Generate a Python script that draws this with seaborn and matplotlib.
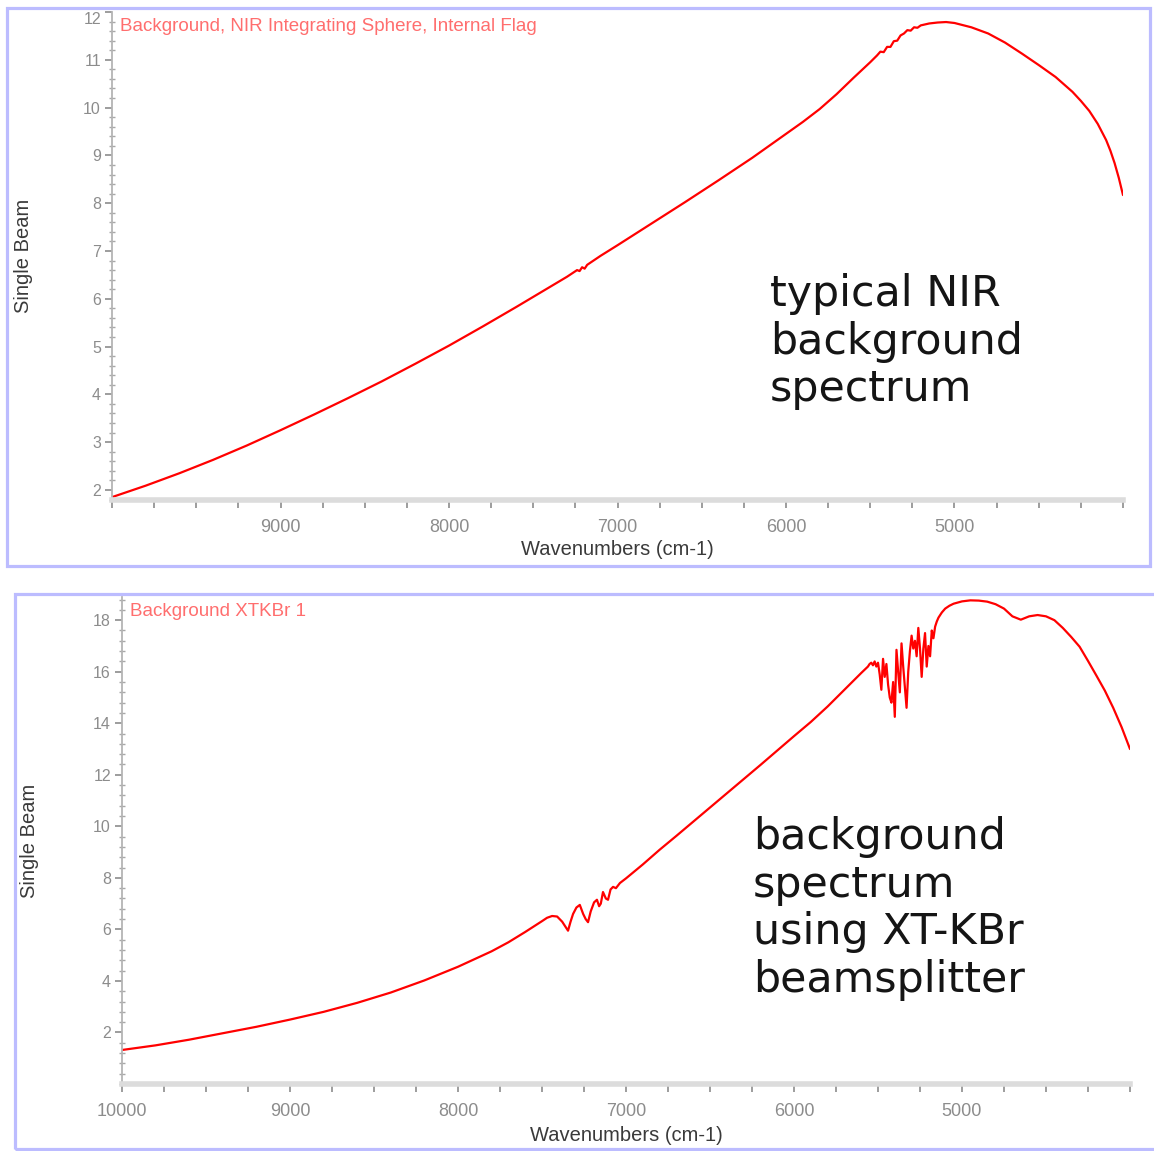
import matplotlib
matplotlib.use("Agg")
import matplotlib.pyplot as plt
from matplotlib.patches import Rectangle
from matplotlib.ticker import MultipleLocator
import pandas as pd
import seaborn as sns

# ---------------- data ----------------
top_wavenumbers = [10000, 9800, 9600, 9400, 9200, 9000, 8800, 8600, 8400, 8200,
                   8000, 7800, 7600, 7400, 7300, 7240, 7225, 7210, 7195, 7180,
                   7100, 7000, 6800, 6600, 6400, 6200, 6000, 5900, 5800, 5700,
                   5600, 5500, 5460, 5440, 5420, 5400, 5380, 5360, 5340, 5320,
                   5300, 5280, 5260, 5240, 5220, 5200, 5150, 5100, 5050, 5000,
                   4900, 4800, 4700, 4600, 4500, 4400, 4300, 4250, 4200, 4150,
                   4100, 4075, 4050, 4025, 4000]
top_single_beam = [1.85, 2.09, 2.35, 2.63, 2.93, 3.25, 3.58, 3.92, 4.27, 4.64,
                   5.02, 5.42, 5.83, 6.25, 6.46, 6.60, 6.58, 6.66, 6.63, 6.71,
                   6.90, 7.12, 7.57, 8.02, 8.48, 8.95, 9.45, 9.70, 9.97, 10.28,
                   10.62, 10.95, 11.09, 11.17, 11.16, 11.27, 11.27, 11.39, 11.40, 11.51,
                   11.55, 11.62, 11.61, 11.68, 11.67, 11.72, 11.76, 11.78, 11.79, 11.77,
                   11.68, 11.55, 11.36, 11.13, 10.89, 10.64, 10.33, 10.14, 9.93, 9.66,
                   9.32, 9.10, 8.84, 8.53, 8.17]

bottom_wavenumbers = [10000, 9800, 9600, 9400, 9200, 9000, 8800, 8600, 8400, 8200,
                      8000, 7900, 7800, 7700, 7600, 7500, 7470, 7440, 7410, 7380,
                      7360, 7345, 7330, 7315, 7295, 7275, 7255, 7240, 7226, 7210,
                      7190, 7173, 7160, 7150, 7137, 7120, 7107, 7092, 7077, 7060,
                      7036, 7000, 6900, 6800, 6700, 6600, 6400, 6200, 6000, 5900,
                      5800, 5700, 5600, 5560, 5550, 5540, 5530, 5520, 5510, 5500,
                      5490, 5480, 5470, 5460, 5450, 5440, 5430, 5420, 5410, 5400,
                      5390, 5380, 5370, 5360, 5350, 5340, 5330, 5320, 5310, 5300,
                      5290, 5280, 5270, 5260, 5250, 5240, 5230, 5220, 5210, 5200,
                      5190, 5180, 5170, 5160, 5150, 5140, 5120, 5100, 5075, 5050,
                      5000, 4950, 4900, 4850, 4800, 4750, 4700, 4650, 4600, 4550,
                      4500, 4450, 4400, 4350, 4300, 4250, 4200, 4150, 4100, 4050,
                      4000]
bottom_single_beam = [1.32, 1.50, 1.72, 1.97, 2.22, 2.50, 2.80, 3.15, 3.55, 4.02,
                      4.55, 4.85, 5.15, 5.50, 5.90, 6.32, 6.45, 6.52, 6.50, 6.30,
                      6.10, 5.95, 6.30, 6.60, 6.85, 6.95, 6.60, 6.40, 6.28, 6.70,
                      7.05, 7.15, 6.90, 7.00, 7.45, 7.20, 7.15, 7.55, 7.65, 7.60,
                      7.80, 7.98, 8.52, 9.09, 9.63, 10.18, 11.28, 12.38, 13.50, 14.05,
                      14.65, 15.30, 15.95, 16.20, 16.30, 16.35, 16.25, 16.40, 16.20, 16.35,
                      15.90, 15.30, 16.50, 15.80, 16.30, 15.50, 15.00, 14.80, 15.60, 14.25,
                      16.85, 16.00, 15.20, 17.10, 16.20, 15.40, 14.60, 16.00, 16.80, 17.40,
                      16.90, 17.20, 16.60, 17.70, 16.90, 15.80, 16.90, 17.50, 16.20, 17.00,
                      16.60, 17.60, 17.30, 17.75, 17.95, 18.10, 18.30, 18.45, 18.56, 18.64,
                      18.73, 18.77, 18.76, 18.72, 18.62, 18.45, 18.15, 18.02, 18.15, 18.20,
                      18.15, 18.00, 17.70, 17.35, 16.97, 16.42, 15.85, 15.27, 14.60, 13.85,
                      13.00]

top_title = "Background, NIR Integrating Sphere, Internal Flag"
bottom_title = "Background XTKBr 1"
top_note = "typical NIR\nbackground\nspectrum"
bottom_note = "background\nspectrum\nusing XT-KBr\nbeamsplitter"
x_label = "Wavenumbers (cm-1)"
y_label = "Single Beam"
top_xticks = [9000, 8000, 7000, 6000, 5000]
bottom_xticks = [10000, 9000, 8000, 7000, 6000, 5000]
top_yticks = [2, 3, 4, 5, 6, 7, 8, 9, 10, 11, 12]
bottom_yticks = [2, 4, 6, 8, 10, 12, 14, 16, 18]

top_df = pd.DataFrame({"wn": top_wavenumbers, "sb": top_single_beam})
bottom_df = pd.DataFrame({"wn": bottom_wavenumbers, "sb": bottom_single_beam})

# ---------------- style ----------------
sns.set_style("white")
plt.rcParams["font.family"] = ["Liberation Sans", "DejaVu Sans"]

W, H = 1154, 1151
fig = plt.figure(figsize=(W / 100, H / 100), dpi=100)


def box(x0, y0, x1, y1):
    return [x0 / W, 1 - y1 / H, (x1 - x0) / W, (y1 - y0) / H]


FRAME = "#bcbcff"
fig.add_artist(Rectangle((7 / W, 1 - 566 / H), (1150 - 7) / W, (566 - 8) / H,
                         transform=fig.transFigure, fill=False, ec=FRAME, lw=2.3))
fig.add_artist(Rectangle((15 / W, 1 - 1149 / H), (1170 - 15) / W, (1149 - 594) / H,
                         transform=fig.transFigure, fill=False, ec=FRAME, lw=2.3))

ax1 = fig.add_axes(box(112, 12, 1123, 500))
ax2 = fig.add_axes(box(122, 597, 1130, 1084))

TICK_GREY = "#8c8c8c"


def style(ax, df, xticks, yticks, ylim, ymin_minor, title, x_lab_y, y_lab_x):
    sns.lineplot(data=df, x="wn", y="sb", ax=ax, color="#ff0000", lw=1.6,
                 estimator=None, sort=False)
    ax.set_xlim(10000, 4000)
    ax.set_ylim(*ylim)
    for s in ["top", "right"]:
        ax.spines[s].set_visible(False)
    ax.spines["left"].set_color("#b4b4b4")
    ax.spines["left"].set_linewidth(1.3)
    ax.spines["bottom"].set_color("#dcdcdc")
    ax.spines["bottom"].set_linewidth(4)
    ax.set_xticks(xticks)
    ax.set_xticklabels([str(v) for v in xticks])
    ax.xaxis.set_minor_locator(MultipleLocator(250))
    ax.tick_params(axis="x", which="both", bottom=True, direction="out", length=6,
                   width=1.2, color=TICK_GREY, labelsize=13, labelcolor=TICK_GREY,
                   pad=8)
    ax.set_yticks(yticks)
    ax.set_yticklabels([str(v) for v in yticks])
    ax.yaxis.set_minor_locator(MultipleLocator(ymin_minor))
    ax.tick_params(axis="y", which="major", left=True, direction="out", length=5,
                   width=1.2, color=TICK_GREY, labelsize=11.5, labelcolor=TICK_GREY,
                   pad=3)
    ax.tick_params(axis="y", which="minor", left=True, direction="inout", length=4,
                   width=1.0, color="#a8a8a8")
    ax.set_xlabel(x_label, fontsize=14.5, color="#3a3a3a", va="top")
    ax.set_ylabel(y_label, fontsize=14.5, color="#3a3a3a")
    ax.xaxis.set_label_coords(0.5, x_lab_y)
    ax.yaxis.set_label_coords(y_lab_x, 0.5)
    ax.text(0.008, 0.988, title, transform=ax.transAxes, ha="left", va="top",
            color="#ff6e6e", fontsize=13.5)


style(ax1, top_df, top_xticks, top_yticks, (1.79, 12.0), 0.2, top_title,
      -0.082, -0.078)
style(ax2, bottom_df, bottom_xticks, bottom_yticks, (0, 18.9), 0.4, bottom_title,
      -0.086, -0.082)

for lbl in ax1.get_yticklabels():
    if lbl.get_text() == "12":
        lbl.set_verticalalignment("top")

fig.text(770 / W, 1 - 273 / H, top_note, fontsize=30.8, family="DejaVu Sans",
         color="#151515", ha="left", va="top", linespacing=1.17)
fig.text(753 / W, 1 - 816 / H, bottom_note, fontsize=30.8, family="DejaVu Sans",
         color="#151515", ha="left", va="top", linespacing=1.17)

fig.savefig("out.png", dpi=100, facecolor="white")
